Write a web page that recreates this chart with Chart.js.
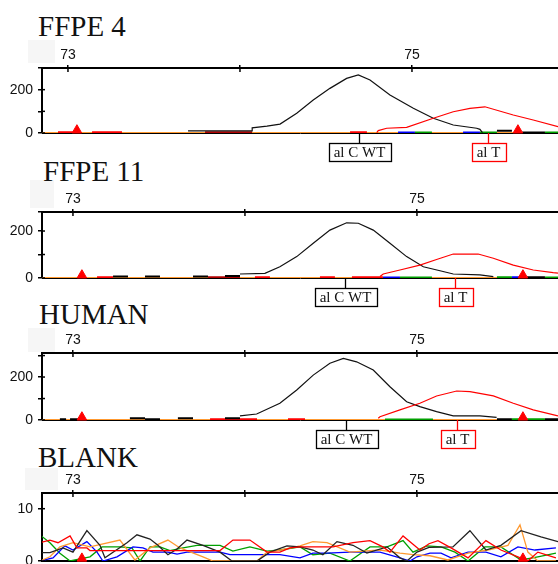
<!DOCTYPE html>
<html>
<head>
<meta charset="utf-8">
<script src="https://cdn.jsdelivr.net/npm/chart.js@4.4.1/dist/chart.umd.min.js"></script>
<style>
  body { margin: 0; background: #fff; width: 558px; height: 564px; overflow: hidden; position: relative; }
  .title { position: absolute; font-family: "Liberation Serif", "Times New Roman", serif; font-size: 29px; line-height: 29px; color: #111; white-space: nowrap; }
  .shade { position: absolute; background: #f6f6f6; }
  canvas { position: absolute; left: 0; }
</style>
</head>
<body>
<div class="shade" style="left:28px;top:40px;width:27px;height:23px"></div>
<div class="shade" style="left:30px;top:180px;width:24px;height:28px"></div>
<div class="shade" style="left:28px;top:328px;width:27px;height:24px"></div>
<div class="shade" style="left:25px;top:468px;width:33px;height:22px"></div>

<div class="title" style="left:38px;top:12px">FFPE 4</div>
<div class="title" style="left:43px;top:157px">FFPE 11</div>
<div class="title" style="left:39px;top:300px">HUMAN</div>
<div class="title" style="left:38px;top:443px">BLANK</div>

<canvas id="c1" width="558" height="123" style="top:40px"></canvas>
<canvas id="c2" width="558" height="124" style="top:184px"></canvas>
<canvas id="c3" width="558" height="125" style="top:325px"></canvas>
<canvas id="c4" width="558" height="99" style="top:465px"></canvas>

<script>
// shared bits
const xTicks = [73, 74, 75];
const labelledX = [73, 75];
const alleleNames = ['al C WT', 'al T'];
const alleleColors = ['#000000', '#ff0000'];
const markX = [73.052, 75.616];

// FFPE 4
const p1Range = [72.849, 75.849];
const p1YMax = 300;
const p1YTicks = [0, 100, 200, 300];
const p1BlackX = [73.698, 74.07, 74.071, 74.157, 74.233, 74.33, 74.426, 74.523, 74.62, 74.688, 74.756, 74.872, 75.008, 75.124, 75.24, 75.376, 75.395, 75.41];
const p1BlackY = [10, 10, 24, 32, 41, 91, 152, 206, 252, 268, 245, 175, 114, 68, 37, 22, 17, 2];
const p1RedX = [74.795, 74.804, 74.853, 74.969, 75.124, 75.24, 75.337, 75.424, 75.589, 75.705, 75.849];
const p1RedY = [2, 11, 22, 26, 68, 98, 114, 121, 83, 60, 29];
const p1RedSegs = [[72.942, 73.041, 3], [73.14, 73.314, 3], [74.64, 74.738, 3]];
const p1DarkSegs = [[73.797, 74.07, 3]];
const p1BlackSegs = [[75.494, 75.581, 10], [75.64, 75.773, 2]];
const p1BlueSegs = [[74.919, 75.017, 2], [75.297, 75.395, 2]];
const p1GreenSegs = [[75.017, 75.116, 2], [75.395, 75.494, 2], [75.773, 75.849, 2]];
const p1Alleles = [74.692, 75.442];
const p1MarkY = 13;

// FFPE 11
const p2Range = [72.82, 75.82];
const p2YMax = 281;
const p2YTicks = [0, 100, 200, 281];
const p2BlackX = [73.971, 74.116, 74.203, 74.301, 74.397, 74.494, 74.591, 74.659, 74.746, 74.843, 74.94, 75.037, 75.134, 75.211, 75.366, 75.444];
const p2BlackY = [17, 20, 48, 91, 148, 204, 235, 233, 204, 148, 91, 48, 31, 17, 13, 6];
const p2RedX = [74.785, 74.804, 74.901, 75.017, 75.114, 75.211, 75.356, 75.444, 75.56, 75.676, 75.792, 75.82];
const p2RedY = [6, 17, 34, 55, 79, 102, 102, 84, 55, 34, 23, 21];
const p2RedSegs = [[73.14, 73.233, 3], [74.058, 74.145, 3], [74.436, 74.523, 3], [74.622, 74.802, 3]];
const p2DarkSegs = [[73.785, 73.971, 3]];
const p2BlackSegs = [[73.233, 73.32, 6], [73.419, 73.506, 6], [73.698, 73.785, 6], [73.884, 73.971, 8], [75.64, 75.744, 3]];
const p2BlueSegs = [[74.802, 74.901, 2], [75.552, 75.61, 3]];
const p2GreenSegs = [[74.901, 75.087, 2], [75.465, 75.552, 3], [75.744, 75.82, 2]];
const p2Alleles = [74.581, 75.221];
const p2MarkY = 12;

// HUMAN
const p3Range = [72.82, 75.82];
const p3YMax = 312;
const p3YTicks = [0, 100, 200, 300];
const p3BlackX = [73.971, 74.068, 74.203, 74.301, 74.397, 74.494, 74.572, 74.649, 74.746, 74.843, 74.94, 75.017, 75.114, 75.211, 75.366, 75.463];
const p3BlackY = [19, 28, 78, 140, 209, 264, 287, 271, 233, 155, 85, 62, 39, 19, 19, 12];
const p3RedX = [74.775, 74.785, 74.901, 75.017, 75.114, 75.231, 75.308, 75.444, 75.56, 75.676, 75.82];
const p3RedY = [8, 15, 47, 78, 112, 135, 132, 112, 78, 47, 19];
const p3RedSegs = [[73.797, 74.07, 3], [74.25, 74.349, 3]];
const p3DarkSegs = [];
const p3BlackSegs = [[72.924, 72.96, 3], [72.983, 73.029, 4], [73.331, 73.419, 8], [73.419, 73.506, 3], [73.61, 73.698, 8], [73.884, 73.971, 8], [75.465, 75.552, 4], [75.744, 75.82, 3]];
const p3BlueSegs = [];
const p3GreenSegs = [[74.814, 75.093, 2], [75.552, 75.744, 3]];
const p3Alleles = [74.585, 75.233];
const p3MarkY = 13;

// BLANK
const p4Range = [72.82, 75.82];
const p4YMax = 13;
const p4YTicks = [0, 10];
const p4BlackX = [72.808, 72.866, 72.942, 73.0, 73.081, 73.157, 73.186, 73.314, 73.372, 73.448, 73.494, 73.552, 73.605, 73.663, 73.756, 73.855, 73.924, 74.07, 74.145, 74.244, 74.32, 74.395, 74.453, 74.535, 74.628, 74.709, 74.826, 74.901, 74.942, 75.0, 75.07, 75.209, 75.308, 75.401, 75.488, 75.605, 75.721, 75.82];
const p4BlackY = [1.6, 1.6, 2.5, 1.7, 5.8, 3, 0.6, 3.5, 5, 4.2, 3, 1.2, 2.3, 4, 3, 1.7, 0, 0, 1.7, 2.9, 2.7, 2.1, 1.2, 3.7, 3, 1.5, 2.7, 0.6, 0, 1.7, 2.6, 2.7, 5.8, 2.1, 3, 5.8, 4.6, 3.7];
const p4RedX = [72.808, 72.866, 72.913, 72.983, 73.023, 73.081, 73.099, 73.855, 73.93, 74.029, 74.128, 74.203, 74.262, 74.32, 74.512, 74.628, 74.727, 74.802, 74.843, 74.919, 75.017, 75.07, 75.122, 75.198, 75.297, 75.401, 75.488, 75.587, 75.645, 75.703, 75.808];
const p4RedY = [3.5, 4, 3.5, 4.8, 2.5, 2.5, 2, 2, 4, 4, 1.7, 1.7, 2.5, 2.7, 2.7, 3.5, 3.9, 2.7, 1.7, 4.8, 2.1, 3.3, 3.9, 2.5, 0.6, 3.9, 2.1, 0.8, 0, 1.7, 0.6];
const p4GreenX = [72.808, 72.866, 72.924, 72.983, 73.099, 73.169, 73.273, 73.343, 73.39, 73.448, 73.506, 73.564, 73.64, 73.721, 73.855, 73.93, 74.029, 74.128, 74.203, 74.32, 74.395, 74.494, 74.61, 74.727, 74.826, 74.919, 74.977, 75.058, 75.14, 75.221, 75.297, 75.395, 75.488, 75.605, 75.703, 75.808];
const p4GreenY = [5, 3.5, 1.5, 0, 0.8, 2.7, 2.7, 2.5, 0, 2.7, 2.7, 2, 2.5, 3, 3, 1.9, 2.7, 1.9, 2.1, 2.7, 1.2, 1.5, 0, 2.7, 2.7, 3.9, 1.7, 2.9, 2.7, 1.7, 0, 2.7, 2.7, 0.2, 0.8, 1.5];
const p4BlueX = [72.808, 72.884, 72.953, 73.0, 73.081, 73.14, 73.174, 73.256, 73.349, 73.407, 73.465, 73.552, 73.605, 73.663, 73.855, 73.913, 74.105, 74.203, 74.32, 74.395, 74.477, 74.61, 74.785, 74.901, 74.959, 75.0, 75.076, 75.14, 75.198, 75.297, 75.401, 75.488, 75.587, 75.686, 75.808];
const p4BlueY = [0, 0.6, 2.9, 2.1, 3.7, 1.7, 0, 0.8, 2.7, 2.5, 1.7, 1.7, 1.3, 1.7, 1.7, 1.2, 1.2, 1.2, 0.6, 1.5, 1.5, 1.7, 1.7, 0.6, 0, 0.8, 1.5, 1.5, 0.6, 1.7, 1.7, 0.8, 2.7, 2.1, 2.5];
const p4OrangeX = [72.808, 72.866, 72.924, 73.0, 73.099, 73.273, 73.36, 73.448, 73.552, 73.622, 73.756, 73.814, 74.07, 74.128, 74.203, 74.32, 74.395, 74.477, 74.61, 74.785, 74.901, 74.977, 75.076, 75.18, 75.297, 75.413, 75.529, 75.599, 75.645, 75.703, 75.808];
const p4OrangeY = [0, 0.8, 2.7, 3.5, 2.7, 4, 0.2, 2.5, 4, 2.5, 0.8, 0, 0, 1.7, 2.1, 2.9, 3.7, 3.5, 1.7, 2.1, 1.5, 1.2, 1.0, 0.2, 1.5, 2.1, 3, 6.9, 1.7, 0, 0];
const p4MarkY = 0.5;

const RED = '#ff0000', DARKRED = '#b00000', GREEN = '#00a000', BLUE = '#0000ff', ORANGE = '#ff9930', BLACK = '#000000';
const tickFont = { family: '"Liberation Sans", Arial, sans-serif', size: 14 };

function pts(xs, ys) {
    return xs.map((x, i) => ({ x: x, y: ys[i] }));
}

function segPts(segs) {
    const out = [];
    segs.forEach(s => {
        out.push({ x: s[0], y: s[2] }, { x: s[1], y: s[2] }, { x: s[1], y: null });
    });
    return out;
}

function line(data, color, width, order) {
    return { type: 'line', data: data, borderColor: color, borderWidth: width, pointRadius: 0, tension: 0, fill: false, spanGaps: false, order: order };
}

function marks(y) {
    return {
        type: 'scatter', data: markX.map(x => ({ x: x, y: y })), order: 0,
        pointStyle: 'triangle', pointRadius: 5.5, backgroundColor: RED, borderColor: RED, borderWidth: 1, clip: false
    };
}

// little tick marks that poke into the plot area
const innerTicks = {
    id: 'innerTicks',
    afterDraw(chart) {
        const { ctx, chartArea, scales } = chart;
        ctx.save();
        ctx.strokeStyle = '#000';
        ctx.lineWidth = 1.5;
        scales.x.ticks.forEach(t => {
            const px = scales.x.getPixelForValue(t.value);
            ctx.beginPath();
            ctx.moveTo(px, chartArea.top);
            ctx.lineTo(px, chartArea.top + 4);
            ctx.stroke();
        });
        scales.y.ticks.forEach(t => {
            const py = scales.y.getPixelForValue(t.value);
            ctx.beginPath();
            ctx.moveTo(chartArea.left, py);
            ctx.lineTo(chartArea.left + 3, py);
            ctx.stroke();
        });
        ctx.restore();
    }
};

// allele call boxes under the peaks
const alleleBoxes = {
    id: 'alleles',
    afterDraw(chart, args, opts) {
        if (!opts.xs || !opts.xs.length) return;
        const { ctx, chartArea, scales } = chart;
        ctx.save();
        ctx.font = '15px "Liberation Serif", "Times New Roman", serif';
        ctx.textAlign = 'center';
        ctx.textBaseline = 'middle';
        opts.xs.forEach((v, i) => {
            const px = Math.round(scales.x.getPixelForValue(v)) + 0.5;
            const top = Math.round(chartArea.bottom) + 10;
            const w = Math.round(ctx.measureText(alleleNames[i]).width + 10);
            ctx.strokeStyle = alleleColors[i];
            ctx.lineWidth = 1.3;
            ctx.beginPath();
            ctx.moveTo(px, chartArea.bottom);
            ctx.lineTo(px, top);
            ctx.stroke();
            ctx.strokeRect(Math.round(px - w / 2) + 0.5, top + 0.5, w, 18);
            ctx.fillStyle = '#111';
            ctx.fillText(alleleNames[i], px, top + 10);
        });
        ctx.restore();
    }
};

function makePanel(id, range, yMax, yTicks, shown, datasets, alleles, bottomPad, bottomLine) {
    return new Chart(document.getElementById(id), {
        data: { datasets: datasets },
        options: {
            responsive: false,
            animation: false,
            events: [],
            layout: { autoPadding: false, padding: { left: 0, right: 0, top: 0, bottom: bottomPad } },
            scales: {
                x: {
                    type: 'linear', position: 'top', min: range[0], max: range[1],
                    afterBuildTicks: s => { s.ticks = xTicks.map(v => ({ value: v })); },
                    ticks: {
                        autoSkip: false, maxRotation: 0, padding: 1,
                        color: '#111', font: tickFont,
                        callback: v => labelledX.includes(v) ? String(v) : ''
                    },
                    grid: { drawOnChartArea: false, tickLength: 3, color: '#000', lineWidth: 1.5 },
                    border: { display: true, color: '#000', width: 2 },
                    afterFit: s => { s.height = 28; s.paddingLeft = 0; s.paddingRight = 0; }
                },
                xb: {
                    type: 'linear', position: 'bottom', min: range[0], max: range[1],
                    ticks: { display: false },
                    grid: { display: false, drawTicks: false },
                    border: { display: true, color: '#000', width: bottomLine },
                    afterFit: s => { s.height = 0; s.paddingLeft = 0; s.paddingRight = 0; }
                },
                y: {
                    type: 'linear', position: 'left', min: 0, max: yMax,
                    afterBuildTicks: s => { s.ticks = yTicks.map(v => ({ value: v })); },
                    ticks: {
                        autoSkip: false, padding: 5,
                        color: '#111', font: tickFont,
                        callback: v => shown.includes(v) ? String(v) : ''
                    },
                    grid: { drawOnChartArea: false, tickLength: 4, color: '#000', lineWidth: 1.5 },
                    border: { display: true, color: '#000', width: 2 },
                    afterFit: s => { s.width = 42; s.paddingTop = 0; s.paddingBottom = 0; }
                }
            },
            plugins: {
                legend: { display: false },
                tooltip: { enabled: false },
                alleles: { xs: alleles }
            }
        },
        plugins: [innerTicks, alleleBoxes]
    });
}

function traceSet(range, blackX, blackY, redX, redY, redSegs, darkSegs, blackSegs, blueSegs, greenSegs, markY) {
    return [
        marks(markY),
        line(pts(redX, redY), RED, 1.2, 1),
        line(pts(blackX, blackY), '#111', 1.2, 2),
        line(segPts(blackSegs), BLACK, 2, 3),
        line(segPts(redSegs), RED, 2, 4),
        line(segPts(darkSegs), DARKRED, 2, 4),
        line(segPts(blueSegs), BLUE, 2, 4),
        line(segPts(greenSegs), GREEN, 2, 4),
        line(segPts([[range[0], range[1], 0]]), ORANGE, 2, 5)
    ];
}

makePanel('c1', p1Range, p1YMax, p1YTicks, [0, 200],
    traceSet(p1Range, p1BlackX, p1BlackY, p1RedX, p1RedY, p1RedSegs, p1DarkSegs, p1BlackSegs, p1BlueSegs, p1GreenSegs, p1MarkY),
    p1Alleles, 30, 1);

makePanel('c2', p2Range, p2YMax, p2YTicks, [0, 200],
    traceSet(p2Range, p2BlackX, p2BlackY, p2RedX, p2RedY, p2RedSegs, p2DarkSegs, p2BlackSegs, p2BlueSegs, p2GreenSegs, p2MarkY),
    p2Alleles, 30, 1);

makePanel('c3', p3Range, p3YMax, p3YTicks, [0, 200],
    traceSet(p3Range, p3BlackX, p3BlackY, p3RedX, p3RedY, p3RedSegs, p3DarkSegs, p3BlackSegs, p3BlueSegs, p3GreenSegs, p3MarkY),
    p3Alleles, 30, 1);

makePanel('c4', p4Range, p4YMax, p4YTicks, [0, 10], [
    marks(p4MarkY),
    line(pts(p4RedX, p4RedY), RED, 1.3, 1),
    line(pts(p4BlackX, p4BlackY), '#222', 1.3, 2),
    line(pts(p4OrangeX, p4OrangeY), ORANGE, 1.3, 3),
    line(pts(p4BlueX, p4BlueY), BLUE, 1.3, 4),
    line(pts(p4GreenX, p4GreenY), GREEN, 1.3, 5)
], [], 3, 2);
</script>
</body>
</html>
